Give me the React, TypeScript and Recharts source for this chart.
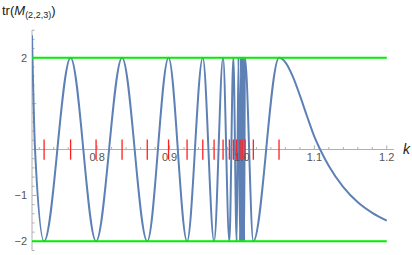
import { LineChart, Line, XAxis, YAxis, ReferenceLine, ReferenceDot } from "recharts";

// curve samples (k, tr M)
const K_VALUES = [
  0.71, 0.7142, 0.7267, 0.7633, 0.7985, 0.8344, 0.8692, 0.8986, 0.9242, 0.9459,
  0.9615, 0.9739, 0.9826, 0.9881, 0.9927, 0.9952, 0.9973, 0.9986, 0.9994, 0.9999,
  1.0003, 1.0008, 1.0014, 1.0021, 1.003, 1.0041, 1.0157, 1.0512, 1.06, 1.07,
  1.08, 1.09, 1.1, 1.108, 1.12, 1.14, 1.16, 1.18, 1.2,
];
const TR_VALUES = [
  2.49, 0, -2, 2, -2, 2, -2, 2, -2, 2,
  -2, 2, -2, 2, -2, 2, -2, 2, -2, 2,
  -2, 2, -2, 2, -2, 2, -2, 2, 1.9, 1.6,
  1.18, 0.72, 0.28, 0, -0.36, -0.82, -1.15, -1.38, -1.55,
];

// red marks on the k axis
const RED_MARKS = [
  0.7267, 0.7633, 0.7985, 0.8344, 0.8692, 0.8986, 0.9242, 0.9459, 0.9615, 0.9739,
  0.9826, 0.9881, 0.9927, 0.9973, 1.0003, 1.0043, 1.0157, 1.0512,
];

const BOUNDS = [-2, 2];

const X_MAJOR = [0.8, 0.9, 1.0, 1.1, 1.2];
const X_LABELS = ["0.8", "0.9", "1.0", "1.1", "1.2"];
const X_MINOR = [
  0.72, 0.74, 0.76, 0.78, 0.82, 0.84, 0.86, 0.88, 0.92, 0.94, 0.96, 0.98,
  1.02, 1.04, 1.06, 1.08, 1.12, 1.14, 1.16, 1.18,
];
const Y_MAJOR = [-2, -1, 1, 2];
const Y_LABELS = ["\u22122", "\u22121", "", "2"];
const Y_MINOR = [
  -2.2, -1.8, -1.6, -1.4, -1.2, -0.8, -0.6, -0.4, -0.2,
  0.2, 0.4, 0.6, 0.8, 1.2, 1.4, 1.6, 1.8, 2.2, 2.4, 2.6,
];

const K_MIN = 0.71;
const K_MAX = 1.21;
const TR_MIN = -2.2;
const TR_MAX = 2.6;

const AXIS = "#b0b0b0";
const TEXT = "#555";
const FONT = "'Liberation Sans', Arial, sans-serif";

const data = K_VALUES.map((k, i) => ({ k, tr: TR_VALUES[i] }));

export default function App() {
  return (
    <div style={{ position: "absolute", left: 0, top: 0, width: 412, height: 255, background: "#fff", fontFamily: FONT }}>
      <LineChart width={412} height={255} data={data} margin={{ top: 30.2, right: 18, bottom: 4.5, left: 32 }}>
        <XAxis dataKey="k" type="number" domain={[K_MIN, K_MAX]} hide allowDataOverflow />
        <YAxis type="number" domain={[TR_MIN, TR_MAX]} hide allowDataOverflow />

        {/* axes through the origin, Mathematica style */}
        <ReferenceLine segment={[{ x: K_MIN, y: 0 }, { x: K_MAX, y: 0 }]} stroke={AXIS} strokeWidth={1} ifOverflow="visible" />
        <ReferenceLine segment={[{ x: K_MIN, y: TR_MIN }, { x: K_MIN, y: TR_MAX }]} stroke={AXIS} strokeWidth={1} ifOverflow="visible" />
        {X_MAJOR.map((t) => (
          <ReferenceLine key={`xM${t}`} segment={[{ x: t, y: 0 }, { x: t, y: 0.09 }]} stroke={AXIS} ifOverflow="visible" />
        ))}
        {X_MINOR.map((t) => (
          <ReferenceLine key={`xm${t}`} segment={[{ x: t, y: 0 }, { x: t, y: 0.055 }]} stroke={AXIS} ifOverflow="visible" />
        ))}
        {Y_MAJOR.map((t) => (
          <ReferenceLine key={`yM${t}`} segment={[{ x: K_MIN, y: t }, { x: K_MIN + 0.0058, y: t }]} stroke={AXIS} ifOverflow="visible" />
        ))}
        {Y_MINOR.map((t) => (
          <ReferenceLine key={`ym${t}`} segment={[{ x: K_MIN, y: t }, { x: K_MIN + 0.0036, y: t }]} stroke={AXIS} ifOverflow="visible" />
        ))}
        {X_MAJOR.map((t, i) => (
          <ReferenceDot key={`xl${t}`} x={t} y={0} r={0} fill="none" stroke="none" ifOverflow="visible"
            label={{ value: X_LABELS[i], position: "bottom", offset: 4, fill: TEXT, fontSize: 11, fontFamily: FONT }} />
        ))}
        {Y_MAJOR.map((t, i) => (
          <ReferenceDot key={`yl${t}`} x={K_MIN} y={t} r={0} fill="none" stroke="none" ifOverflow="visible"
            label={{ value: Y_LABELS[i], position: "left", offset: 5, fill: TEXT, fontSize: 11, fontFamily: FONT }} />
        ))}
        <ReferenceDot x={K_MAX} y={0} r={0} fill="none" stroke="none" ifOverflow="visible"
          label={{ value: "k", position: "right", offset: 9, fill: "#222", fontSize: 14, fontStyle: "italic", fontFamily: FONT }} />

        <Line type="monotone" dataKey="tr" stroke="#5e81b5" strokeWidth={2} dot={false} isAnimationActive={false} />

        {BOUNDS.map((b) => (
          <ReferenceLine key={`b${b}`} segment={[{ x: K_MIN, y: b }, { x: 1.2, y: b }]} stroke="#00ee00" strokeWidth={2} ifOverflow="visible" />
        ))}
        {RED_MARKS.map((k) => (
          <ReferenceLine key={`r${k}`} segment={[{ x: k, y: -0.22 }, { x: k, y: 0.22 }]} stroke="#ff2020" strokeWidth={1.3} ifOverflow="visible" />
        ))}
      </LineChart>
      <div style={{ position: "absolute", left: 2, top: 3, fontSize: 13, color: "#222", whiteSpace: "nowrap", lineHeight: "16px" }}>
        tr(<i>M</i>
        <sub style={{ fontSize: 9, verticalAlign: "-3px" }}>(2,2,3)</sub>)
      </div>
    </div>
  );
}
